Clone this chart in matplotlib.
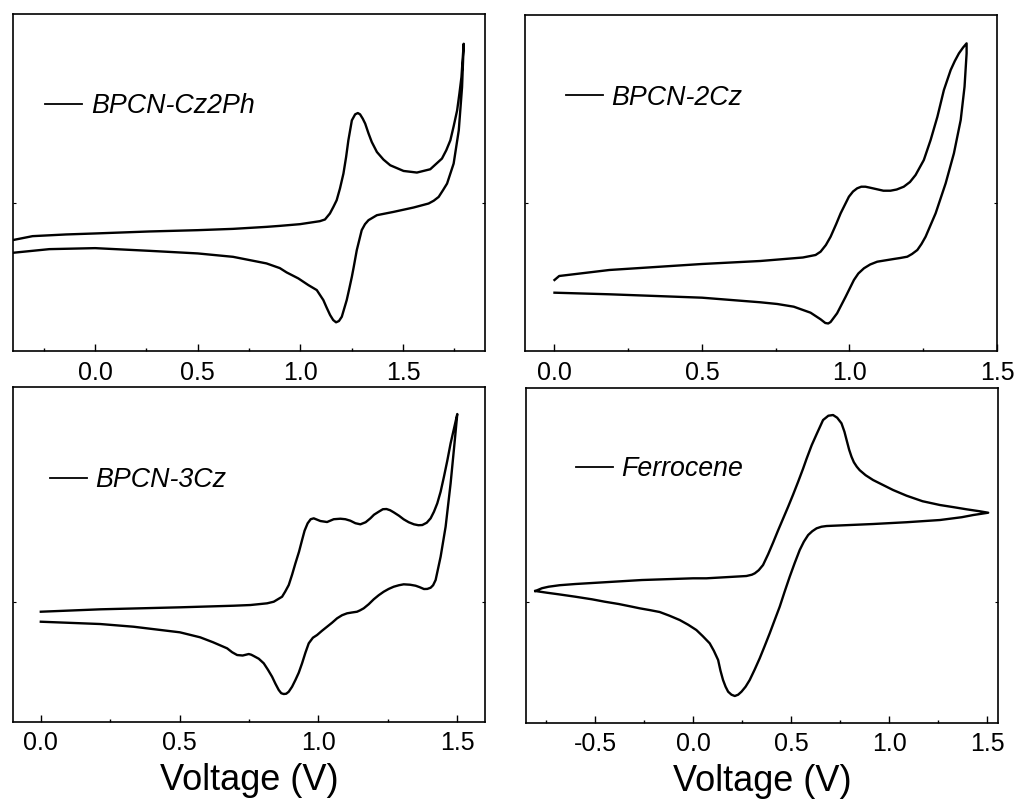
import matplotlib
matplotlib.use("Agg")
import matplotlib.pyplot as plt
from matplotlib.ticker import MultipleLocator, FixedLocator

plt.rcParams['font.family'] = ['Liberation Sans', 'DejaVu Sans']
plt.rcParams['axes.unicode_minus'] = False

# ---- cyclic voltammograms (V, current in arbitrary units), forward then reverse sweep ----
cz2ph_v_fwd = [-0.403, -0.305, -0.142, 0.0, 0.265, 0.5, 0.672, 0.835, 0.900, 0.998, 1.095, 1.120,
               1.144, 1.161, 1.177, 1.193, 1.21, 1.223, 1.234, 1.251, 1.267, 1.280, 1.291, 1.304,
               1.316, 1.332, 1.348, 1.373, 1.405, 1.438, 1.503, 1.568, 1.633, 1.690, 1.711, 1.731,
               1.747, 1.764, 1.775, 1.785, 1.796]
cz2ph_i_fwd = [-37, -33, -31.3, -30.3, -28.3, -27, -25.7, -23.7, -22.7, -21, -18, -16.3,
               -10.3, -3.7, 3, 14.7, 29.7, 46.3, 63, 83, 89, 90.3, 89, 84.7,
               79.7, 70, 61.3, 51.3, 43.7, 38, 32.3, 30.7, 34, 44.7, 53, 63,
               77, 93, 109.7, 126.3, 159.7]
cz2ph_v_rev = [1.796, 1.788, 1.772, 1.747, 1.715, 1.695, 1.674, 1.65, 1.625, 1.552, 1.454, 1.373,
               1.332, 1.315, 1.299, 1.275, 1.26, 1.251, 1.238, 1.226, 1.202, 1.188, 1.174, 1.16,
               1.145, 1.128, 1.112, 1.080, 1.039, 0.990, 0.933, 0.900, 0.835, 0.672, 0.5, 0.265,
               0.0, -0.223, -0.403]
cz2ph_i_rev = [159.7, 116.3, 73, 39.7, 19.7, 13, 6.3, 2.5, -0.3, -4.3, -8.7, -12,
               -17, -21, -27, -47, -64, -73.7, -86, -97, -113.7, -118, -119.3, -117,
               -112, -104.5, -97, -87, -82, -75.3, -69.3, -65, -60.3, -53.7, -50.3, -47.7,
               -45, -46, -49.7]

cz2_v_fwd = [0.0, 0.016, 0.186, 0.5, 0.698, 0.842, 0.885, 0.902, 0.92, 0.936, 0.955, 0.970,
             0.998, 1.012, 1.026, 1.04, 1.054, 1.07, 1.094, 1.115, 1.139, 1.16, 1.184, 1.205,
             1.224, 1.252, 1.275, 1.298, 1.320, 1.343, 1.357, 1.371, 1.385, 1.397]
cz2_i_fwd = [-77, -73, -67, -61, -58, -54.5, -52, -48.7, -42, -33.7, -21, -10.3,
             6.3, 11.5, 14.7, 16.3, 16.3, 15.3, 13.7, 12.3, 12.3, 13.5, 16.3, 21,
             28, 43, 63, 86.3, 113, 133, 142, 149.7, 155.5, 159.7]
cz2_v_rev = [1.397, 1.397, 1.390, 1.377, 1.354, 1.326, 1.292, 1.258, 1.244, 1.230, 1.212, 1.196,
             1.172, 1.150, 1.094, 1.07, 1.049, 1.03, 1.015, 0.987, 0.958, 0.936, 0.928, 0.918,
             0.902, 0.885, 0.868, 0.811, 0.755, 0.698, 0.5, 0.186, 0.0]
cz2_i_rev = [159.7, 149.7, 116.3, 83, 49.7, 19.7, -10.3, -33.7, -41, -47, -51, -53.7,
             -55, -56, -58.7, -61.5, -65.3, -70.5, -77, -93.7, -110.3, -119, -120.5, -120,
             -116.3, -113, -109.7, -103.7, -101, -99.3, -94.7, -91.3, -89.7]

cz3_v_fwd = [0.0, 0.214, 0.501, 0.694, 0.755, 0.815, 0.839, 0.869, 0.88, 0.893, 0.905, 0.917,
             0.93, 0.941, 0.95, 0.961, 0.972, 0.983, 1.007, 1.031, 1.055, 1.079, 1.097, 1.115,
             1.133, 1.151, 1.17, 1.187, 1.20, 1.217, 1.232, 1.245, 1.258, 1.271, 1.29, 1.307,
             1.325, 1.344, 1.36, 1.374, 1.39, 1.404, 1.416, 1.428, 1.44, 1.452, 1.464, 1.476,
             1.488, 1.5]
cz3_i_fwd = [-10, -7.6, -5.6, -4, -3.3, -1.6, 0, 5, 10, 16.7, 27, 38.4,
             50, 61.7, 71, 78.4, 82.5, 83.4, 80.7, 79.7, 82.5, 83, 82.5, 81,
             78.5, 77.4, 79.5, 83.4, 87, 90, 92.5, 92.7, 91.5, 89.4, 86, 82.4,
             79.5, 77.4, 76.5, 76.7, 79, 83.4, 90, 98.4, 110, 125, 141, 158.4,
             173, 187.7]
cz3_v_rev = [1.5, 1.490, 1.476, 1.458, 1.440, 1.422, 1.413, 1.404, 1.392, 1.380, 1.365, 1.350,
             1.33, 1.307, 1.29, 1.271, 1.253, 1.235, 1.217, 1.199, 1.181, 1.163, 1.15, 1.139,
             1.12, 1.103, 1.085, 1.067, 1.049, 1.031, 1.013, 0.995, 0.98, 0.965, 0.953, 0.941,
             0.929, 0.917, 0.905, 0.893, 0.884, 0.875, 0.866, 0.857, 0.845, 0.833, 0.818, 0.803,
             0.785, 0.767, 0.758, 0.749, 0.727, 0.707, 0.689, 0.671, 0.62, 0.574, 0.501, 0.334,
             0.214, 0.0]
cz3_i_rev = [187.7, 158.4, 118.4, 75, 45, 21.7, 16.5, 14, 12.8, 12.7, 14.5, 16,
             17, 17.4, 16.5, 15, 12.8, 10, 6.5, 2.4, -2.5, -6.6, -8.6, -10,
             -10.8, -11.6, -13.5, -16.6, -21, -25, -29, -33.3, -36, -41.6, -51, -61.6,
             -71, -78.3, -85, -90, -92, -92.3, -91.5, -88.3, -82, -75, -68, -61.6,
             -57, -54.3, -53, -52.3, -53.8, -53.3, -50.5, -46.6, -40.5, -35.6, -30.6, -25,
             -22.3, -20]

fc_v_fwd = [-0.804, -0.77, -0.736, -0.68, -0.6, -0.26, 0.0, 0.068, 0.272, 0.30, 0.315, 0.335,
            0.357, 0.383, 0.408, 0.433, 0.459, 0.485, 0.510, 0.536, 0.561, 0.579, 0.605, 0.630,
            0.663, 0.690, 0.714, 0.735, 0.757, 0.772, 0.783, 0.796, 0.808, 0.820, 0.835, 0.850,
            0.880, 0.918, 1.02, 1.089, 1.17, 1.259, 1.33, 1.395, 1.46, 1.505]
fc_i_fwd = [10.7, 13.5, 15, 16.5, 17.7, 21.7, 23.4, 23.4, 25.7, 27, 28.4, 31.5,
            36.7, 47.5, 59, 71, 83, 95, 107, 120, 133, 143, 156.5, 167.5,
            181.7, 186, 186.7, 184, 178.4, 170, 161.7, 152, 145, 139.5, 135, 131.5,
            126.5, 121.7, 111.7, 106, 100.5, 96.7, 94.5, 92.4, 90.5, 89]
fc_v_rev = [1.505, 1.429, 1.37, 1.259, 1.09, 0.918, 0.80, 0.681, 0.655, 0.630, 0.608, 0.587,
            0.565, 0.544, 0.518, 0.493, 0.467, 0.442, 0.416, 0.391, 0.365, 0.340, 0.314, 0.289,
            0.268, 0.247, 0.23, 0.213, 0.196, 0.179, 0.166, 0.153, 0.14, 0.128, 0.106, 0.085,
            0.05, 0.017, -0.025, -0.068, -0.12, -0.170, -0.22, -0.272, -0.311, -0.379, -0.45,
            -0.515, -0.6, -0.685, -0.745, -0.804]
fc_i_rev = [89, 86.7, 84.5, 81.7, 79.5, 77.7, 76.7, 75.7, 75, 73.4, 70.5, 66.7,
            60, 51.7, 38.5, 25, 10, -5, -18.5, -31.6, -44.5, -56.6, -68, -78.3,
            -85, -90, -93, -94.3, -93, -90, -85, -78.3, -69, -58.3, -49, -41.6,
            -34.5, -28.3, -23, -18.3, -14, -10.3, -8.4, -6.6, -5, -2.3, 0,
            2.4, 5, 7.4, 9, 10.7]

names = ['BPCN-Cz2Ph', 'BPCN-2Cz', 'BPCN-3Cz', 'Ferrocene']
curves = [
    (cz2ph_v_fwd + cz2ph_v_rev, cz2ph_i_fwd + cz2ph_i_rev),
    (cz2_v_fwd + cz2_v_rev, cz2_i_fwd + cz2_i_rev),
    (cz3_v_fwd + cz3_v_rev, cz3_i_fwd + cz3_i_rev),
    (fc_v_fwd + fc_v_rev, fc_i_fwd + fc_i_rev),
]
xlims = [(-0.4, 1.9), (-0.1, 1.5), (-0.1, 1.6), (-0.85, 1.555)]
ylims = [(-148.5, 189), (-148.5, 188.3), (-120.3, 215), (-121.6, 213.4)]
xticks = [[0.0, 0.5, 1.0, 1.5], [0.0, 0.5, 1.0, 1.5], [0.0, 0.5, 1.0, 1.5],
          [-0.5, 0.0, 0.5, 1.0, 1.5]]

# axes boxes in figure fraction
boxes = [
    [0.0128, 0.5612, 0.4632, 0.4207],
    [0.5152, 0.5612, 0.4632, 0.4204],
    [0.0128, 0.0986, 0.4632, 0.4186],
    [0.5165, 0.0970, 0.4629, 0.4182],
]
legend_pos = [(0.068, 0.727), (0.086, 0.754), (0.078, 0.722), (0.105, 0.759)]

fig = plt.figure(figsize=(10.19, 8.01), dpi=100)

for k in range(4):
    ax = fig.add_axes(boxes[k])
    v, i = curves[k]
    ax.plot(v, i, color='black', lw=1.7, solid_joinstyle='round', label=names[k])
    ax.set_xlim(xlims[k])
    ax.set_ylim(ylims[k])
    ax.xaxis.set_major_locator(FixedLocator(xticks[k]))
    ax.xaxis.set_minor_locator(MultipleLocator(0.25))
    ax.set_xticklabels(['%.1f' % t for t in xticks[k]])
    ax.set_yticks([0])
    ax.tick_params(axis='x', which='major', direction='in', length=5, width=1.0,
                   labelsize=18, pad=6.5)
    ax.tick_params(axis='x', which='minor', direction='in', length=2.5, width=1.0)
    ax.tick_params(axis='y', direction='in', length=2.5, width=0.8,
                   left=True, right=True, labelleft=False)
    for s in ax.spines.values():
        s.set_linewidth(1.2)
    leg = ax.legend(loc='center left', bbox_to_anchor=legend_pos[k], frameon=False,
                    borderpad=0, borderaxespad=0, handlelength=1.38, handletextpad=0.32,
                    prop={'style': 'italic', 'size': 19.3})
    for h in leg.legend_handles:
        h.set_linewidth(1.3)
    if k >= 2:
        ax.set_xlabel('Voltage (V)', fontsize=26, labelpad=5.5)

fig.savefig('out.png', dpi=100)
